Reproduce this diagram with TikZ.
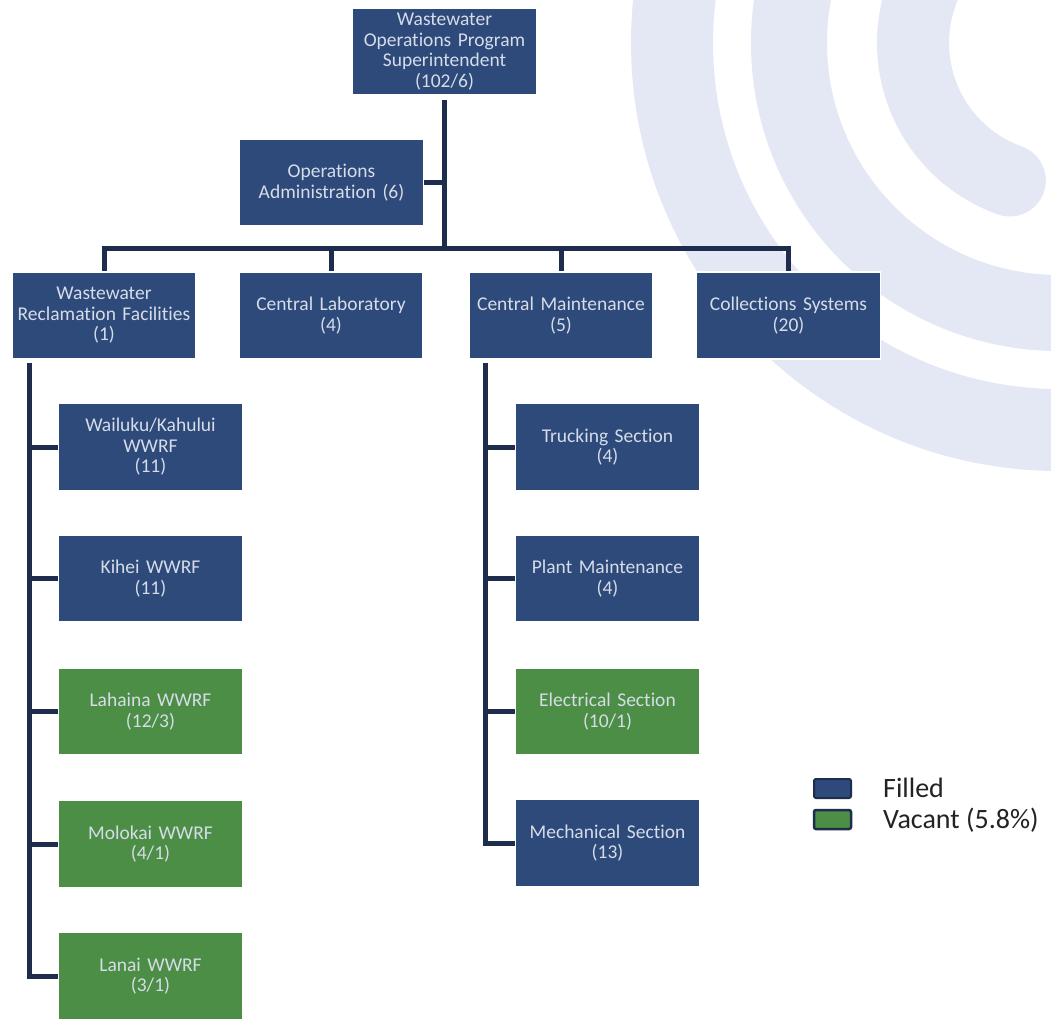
\documentclass[tikz,border=0pt]{standalone}
\usepackage{fontspec}
\setmainfont[Ligatures={NoCommon}]{Carlito}
\usetikzlibrary{calc}
\definecolor{boxblue}{RGB}{45,74,122}
\definecolor{boxgreen}{RGB}{76,142,70}
\definecolor{conncol}{RGB}{30,44,78}
\definecolor{lav}{RGB}{228,232,245}
\definecolor{boxtext}{RGB}{214,220,232}
\definecolor{legtext}{RGB}{35,35,35}
\begin{document}
\begin{tikzpicture}[x=1pt,y=-1pt,
  unit/.style={minimum width=184pt, minimum height=87pt, inner sep=2pt, align=center,
    text width=178pt, text=boxtext, font=\fontsize{19.5}{20.5}\selectfont, draw=white, line width=1.5pt},
  filled/.style={unit, fill=boxblue},
  vacant/.style={unit, fill=boxgreen},
  conn/.style={draw=conncol, line width=5pt, line join=miter},
  swatch/.style={draw=conncol, minimum width=37pt, minimum height=19pt, rounded corners=2pt, inner sep=0pt},
  legend/.style={anchor=base west, inner sep=0pt, text=legtext, font=\fontsize{28}{30}\selectfont}
]
\fill[white] (0,0) rectangle (1051,1019);
\useasboundingbox (0,0) rectangle (1051,1019);
% background arcs
\coordinate (O) at (1059,43);
\begin{scope}
\clip (0,0) rectangle (1051,1019);
\fill[lav, even odd rule] (O) circle[radius=428] (O) circle[radius=346];
\fill[lav, even odd rule] (O) circle[radius=308] (O) circle[radius=232];
\draw[lav, line width=72pt, line cap=round] ($(O)+(215:146)$) arc[start angle=215, end angle=109.7, radius=146];
\end{scope}
% nodes
\node[filled] (top) at (444.5,51.5) {Wastewater\\Operations Program\\Superintendent\\(102/6)};
\node[filled] (ops) at (331.5,182.5) {Operations\\Administration (6)};
\node[filled] (wrf) at (104,315.5) {Wastewater\\Reclamation Facilities\\(1)};
\node[filled] (lab) at (331,315.5) {Central Laboratory\\(4)};
\node[filled] (cm) at (561,315.5) {Central Maintenance\\(5)};
\node[filled] (cs) at (788.5,315.5) {Collections Systems\\(20)};
\node[filled] (wai) at (150.5,447) {Wailuku/Kahului\\WWRF\\(11)};
\node[filled] (kih) at (150.5,578.5) {Kihei WWRF\\(11)};
\node[vacant] (lah) at (150.5,711.5) {Lahaina WWRF\\(12/3)};
\node[vacant] (mol) at (150.5,844) {Molokai WWRF\\(4/1)};
\node[vacant] (lan) at (150.5,976) {Lanai WWRF\\(3/1)};
\node[filled] (tru) at (607.5,447) {Trucking Section\\(4)};
\node[filled] (pla) at (607.5,578.5) {Plant Maintenance\\(4)};
\node[vacant] (ele) at (607.5,711.5) {Electrical Section\\(10/1)};
\node[filled] (mec) at (607.5,843) {Mechanical Section\\(13)};
% connectors
\coordinate (bus) at (0,248);
\coordinate (lsp) at (29,0);
\coordinate (rsp) at (485,0);
\draw[conn] ([yshift=-4pt]top.south) -- (top.south |- bus);
\draw[conn] (ops.east) -- (ops.east -| top.south);
\draw[conn] (wrf.north) -- (wrf.north |- bus) -- (cs.north |- bus) -- (cs.north);
\draw[conn] (lab.north) -- (lab.north |- bus);
\draw[conn] (cm.north) -- (cm.north |- bus);
\draw[conn] ([yshift=-3pt]lsp |- wrf.south) -- (lsp |- lan.west) -- (lan.west);
\foreach \n in {wai,kih,lah,mol} \draw[conn] (lsp |- \n.west) -- (\n.west);
\draw[conn] ([yshift=-3pt]rsp |- cm.south) -- (rsp |- mec.west) -- (mec.west);
\foreach \n in {tru,pla,ele} \draw[conn] (rsp |- \n.west) -- (\n.west);
% legend
\node[swatch, fill=boxblue, line width=2pt] (lf) at (832.5,788.5) {};
\node[swatch, fill=boxgreen, line width=2.5pt] (lv) at (832.5,819.5) {};
\node[legend] (lft) at (883,797) {Filled};
\node[legend] (lvt) at (883,828) {Vacant (5.8\%)};
\end{tikzpicture}
\end{document}
